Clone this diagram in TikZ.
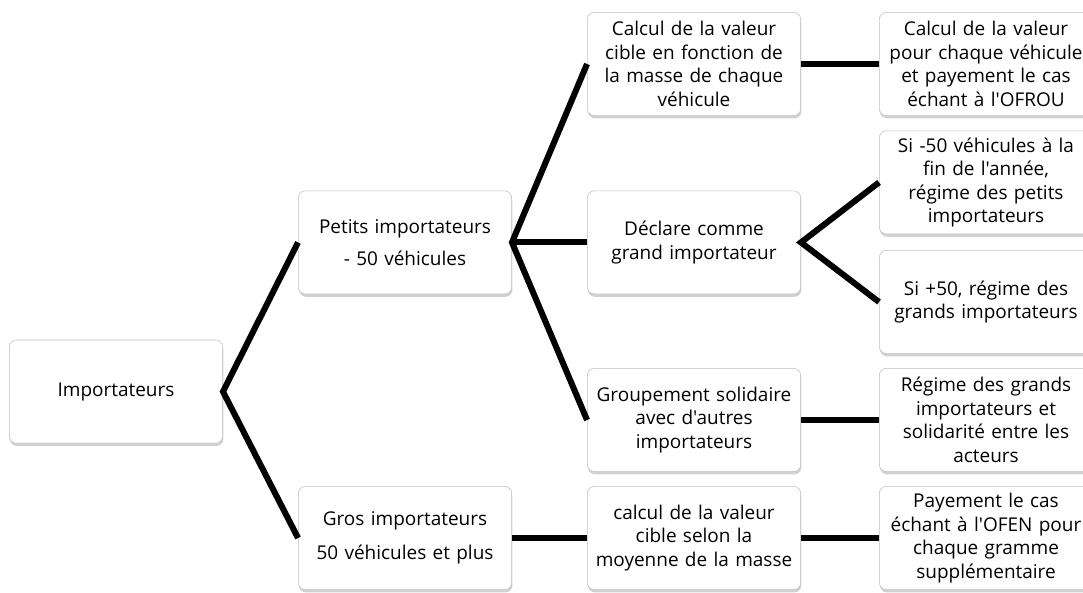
\documentclass[tikz,border=0pt]{standalone}
\usepackage{fontspec}
\setmainfont{Open Sans}[Ligatures=TeXOff]
\usepackage{tikz}
\usetikzlibrary{shapes,positioning,calc}
\usetikzlibrary{shadows}
\tikzstyle{boite} = [rectangle, 
rounded corners=5pt, minimum width=5.2cm, minimum height=2.58cm, text width=5.1cm, align=center, draw=gray!50, fill=white, drop shadow={shadow xshift=0.5pt, shadow yshift=-2pt, opacity=0.45, fill=gray!80}, font=\fontsize{13.5}{16.7}\selectfont]
\tikzstyle{lien} = [line width=4.3pt, line join=miter]

\begin{document}
\begin{tikzpicture}
						\useasboundingbox (0,0) rectangle (27.075,-14.8);
						\node (imp) at (2.9,-9.79) [boite] {Importateurs};
						\node (petits) at (10.125,-6.06) [boite] {Petits importateurs\\[0.2cm]- 50 véhicules};
						\node (gros) at (10.125,-13.45) [boite] {Gros importateurs\\[0.25cm]50 véhicules et plus};
						\node (calcul) at (17.35,-1.6) [boite] {Calcul de la valeur\\cible en fonction de\\la masse de chaque\\véhicule};
						\node (declare) at (17.35,-6.06) [boite] {Déclare comme\\grand importateur};
						\node (groupe) at (17.35,-10.5) [boite] {Groupement solidaire\\avec d'autres\\importateurs};
						\node (cible) at (17.35,-13.45) [boite] {calcul de la valeur\\cible selon la\\moyenne de la masse};
						\node (valeur) at (24.65,-1.6) [boite] {Calcul de la valeur\\pour chaque véhicule\\et payement le cas\\échant à l'OFROU};
						\node (moins) at (24.65,-4.56) [boite] {Si -50 véhicules à la\\fin de l'année,\\régime des petits\\importateurs};
						\node (plus) at (24.65,-7.55) [boite] {Si +50, régime des\\grands importateurs};
						\node (regime) at (24.65,-10.5) [boite] {Régime des grands\\importateurs et\\solidarité entre les\\acteurs};
						\node (payement) at (24.65,-13.45) [boite] {Payement le cas\\échant à l'OFEN pour\\chaque gramme\\supplémentaire};
						\draw[lien] (petits.west) -- (imp.east) -- (gros.west);
						\draw[lien] (calcul.west) -- (petits.east) -- (groupe.west);
						\draw[lien] (petits.east) -- (declare.west);
						\draw[lien] (moins.west) -- (declare.east) -- (plus.west);
						\draw[lien] (calcul) -- (valeur);
						\draw[lien] (groupe) -- (regime);
						\draw[lien] (gros) -- (cible) -- (payement);
					\end{tikzpicture}
\end{document}
